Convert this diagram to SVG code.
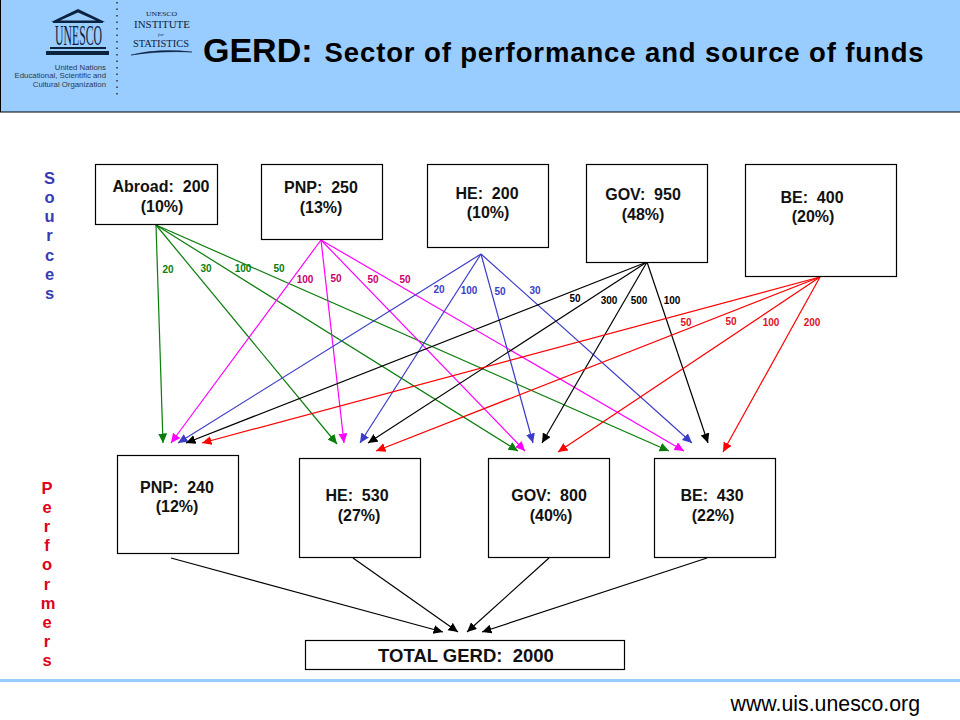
<svg xmlns="http://www.w3.org/2000/svg" width="960" height="720" viewBox="0 0 960 720">
<style>
text{font-family:"Liberation Sans",Arial,sans-serif;white-space:pre}
.serif{font-family:"Liberation Serif",serif}
.box{fill:#fff;stroke:#000;stroke-width:1.2}
.n{font-size:16px;font-weight:bold;text-anchor:middle;fill:#111}
.l{font-size:10px;font-weight:bold;text-anchor:middle}
.c line{stroke-width:1.2;fill:none}
.v{font-size:16.5px;font-weight:bold;text-anchor:middle}
.g line{stroke:#0a7d0a}.m line{stroke:#f0f}.b line{stroke:#3c3cc8}.k line{stroke:#000}.r line{stroke:#f00}
</style>
<defs>
<marker id="ag" markerWidth="10" markerHeight="10" refX="9.5" refY="4.5" orient="auto" markerUnits="userSpaceOnUse"><path d="M0 0L9.500 4.500L0 9z" fill="#0a7d0a"/></marker>
<marker id="am" markerWidth="10" markerHeight="10" refX="9.5" refY="4.5" orient="auto" markerUnits="userSpaceOnUse"><path d="M0 0L9.500 4.500L0 9z" fill="#f0f"/></marker>
<marker id="ab" markerWidth="10" markerHeight="10" refX="9.5" refY="4.5" orient="auto" markerUnits="userSpaceOnUse"><path d="M0 0L9.500 4.500L0 9z" fill="#3c3cc8"/></marker>
<marker id="ak" markerWidth="10" markerHeight="10" refX="9.5" refY="4.5" orient="auto" markerUnits="userSpaceOnUse"><path d="M0 0L9.500 4.500L0 9z" fill="#000"/></marker>
<marker id="ar" markerWidth="10" markerHeight="10" refX="9.5" refY="4.5" orient="auto" markerUnits="userSpaceOnUse"><path d="M0 0L9.500 4.500L0 9z" fill="#f00"/></marker>
</defs>
<rect width="960" height="720" fill="#fff"/>
<rect id="header" x="0.5" y="-2" width="961" height="114" fill="#99ccff" stroke="#000" stroke-width="1"/>
<g id="logo">
<path d="M51 22L78 9L105 22zM60 20.500H96L78 12.500z" fill="#0c2340" fill-rule="evenodd"/>
<rect x="53" y="21" width="50" height="2" fill="#0c2340"/>
<text class="serif" transform="translate(55 45) scale(1 2.550)" font-size="11.750" fill="#0c2340">UNESCO</text>
<rect x="50" y="47" width="56" height="2" fill="#0c2340"/>
<rect x="46" y="51" width="63" height="4" fill="#0c2340"/>
<g font-size="7.800" fill="#2c3a4c" text-anchor="end">
<text x="106" y="70">United Nations</text>
<text x="106" y="78">Educational, Scientific and</text>
<text x="106" y="87">Cultural Organization</text>
</g>
<line x1="117" y1="2" x2="117" y2="99" stroke="#333" stroke-width="1.5" stroke-dasharray="1.5 5"/>
<g fill="#0c2340">
<text class="serif" x="146" y="16" font-size="7" textLength="31" lengthAdjust="spacingAndGlyphs">UNESCO</text>
<text class="serif" x="134" y="28" font-size="11" textLength="56" lengthAdjust="spacingAndGlyphs">INSTITUTE</text>
<text class="serif" x="161" y="35.500" font-size="5" font-style="italic" text-anchor="middle">for</text>
<text class="serif" x="133" y="47" font-size="11" textLength="56" lengthAdjust="spacingAndGlyphs">STATISTICS</text>
</g>
<path d="M131 55Q160 48 192 52Q160 50.500 131 55z" fill="#0c2340" stroke="#0c2340" stroke-width=".5"/>
</g>
<text id="title" x="203" y="62" font-weight="bold" fill="#000"><tspan font-size="34">GERD:</tspan><tspan font-size="27.500" dx="12" letter-spacing=".88">Sector of performance and source of funds</tspan></text>

<g id="connectors" class="c">
<g class="g">
<line x1="156" y1="225" x2="163" y2="443" marker-end="url(#ag)"/>
<line x1="156" y1="225" x2="337" y2="444" marker-end="url(#ag)"/>
<line x1="156" y1="225" x2="518" y2="451" marker-end="url(#ag)"/>
<line x1="156" y1="225" x2="669" y2="451" marker-end="url(#ag)"/>
</g>
<g class="m">
<line x1="321" y1="240" x2="171" y2="443" marker-end="url(#am)"/>
<line x1="321" y1="240" x2="344" y2="443" marker-end="url(#am)"/>
<line x1="321" y1="240" x2="525" y2="451" marker-end="url(#am)"/>
<line x1="321" y1="240" x2="684" y2="451" marker-end="url(#am)"/>
</g>
<g class="b">
<line x1="481" y1="254" x2="178" y2="443" marker-end="url(#ab)"/>
<line x1="481" y1="254" x2="360" y2="443" marker-end="url(#ab)"/>
<line x1="481" y1="254" x2="533" y2="443" marker-end="url(#ab)"/>
<line x1="481" y1="254" x2="692" y2="443" marker-end="url(#ab)"/>
</g>
<g class="k">
<line x1="647" y1="262" x2="186" y2="443" marker-end="url(#ak)"/>
<line x1="647" y1="262" x2="368" y2="443" marker-end="url(#ak)"/>
<line x1="647" y1="262" x2="542" y2="443" marker-end="url(#ak)"/>
<line x1="647" y1="262" x2="708" y2="443" marker-end="url(#ak)"/>
</g>
<g class="r">
<line x1="820" y1="277" x2="202" y2="443" marker-end="url(#ar)"/>
<line x1="820" y1="277" x2="376" y2="451" marker-end="url(#ar)"/>
<line x1="820" y1="277" x2="558" y2="452" marker-end="url(#ar)"/>
<line x1="820" y1="277" x2="723" y2="452" marker-end="url(#ar)"/>
</g>
<g class="k">
<line x1="171" y1="558" x2="443" y2="632" marker-end="url(#ak)"/>
<line x1="353" y1="558" x2="458" y2="632" marker-end="url(#ak)"/>
<line x1="549" y1="558" x2="467" y2="632" marker-end="url(#ak)"/>
<line x1="707" y1="558" x2="482" y2="632" marker-end="url(#ak)"/>
</g>
</g>

<g id="src-abroad"><rect class="box" x="95.500" y="164.500" width="122" height="60"/><text class="n" x="161" y="192">Abroad:  200</text><text class="n" x="162" y="212">(10%)</text></g>
<g id="src-pnp"><rect class="box" x="261.500" y="164.500" width="121" height="75"/><text class="n" x="321" y="193">PNP:  250</text><text class="n" x="321" y="213">(13%)</text></g>
<g id="src-he"><rect class="box" x="427.500" y="164.500" width="121" height="83"/><text class="n" x="487" y="199">HE:  200</text><text class="n" x="488" y="218">(10%)</text></g>
<g id="src-gov"><rect class="box" x="586.500" y="164.500" width="121" height="98"/><text class="n" x="643" y="200">GOV:  950</text><text class="n" x="643" y="220">(48%)</text></g>
<g id="src-be"><rect class="box" x="745.500" y="164.500" width="151" height="112"/><text class="n" x="812" y="203">BE:  400</text><text class="n" x="813" y="222">(20%)</text></g>

<g id="perf-pnp"><rect class="box" x="117.500" y="455.500" width="121" height="98"/><text class="n" x="177" y="493">PNP:  240</text><text class="n" x="177" y="512">(12%)</text></g>
<g id="perf-he"><rect class="box" x="299.500" y="458.500" width="121" height="99"/><text class="n" x="357" y="501">HE:  530</text><text class="n" x="359" y="521">(27%)</text></g>
<g id="perf-gov"><rect class="box" x="488.500" y="458.500" width="121" height="99"/><text class="n" x="549" y="501">GOV:  800</text><text class="n" x="551" y="521">(40%)</text></g>
<g id="perf-be"><rect class="box" x="654.500" y="458.500" width="121" height="99"/><text class="n" x="712" y="501">BE:  430</text><text class="n" x="713" y="521">(22%)</text></g>
<g id="total"><rect class="box" x="305.500" y="640.500" width="319" height="29"/><text x="466" y="662" font-size="18.500" font-weight="bold" text-anchor="middle" fill="#111">TOTAL GERD:  2000</text></g>

<g id="labels-green" class="l" fill="#0a7d0a">
<text x="168" y="273">20</text><text x="206" y="272">30</text><text x="243" y="272">100</text><text x="279" y="272">50</text>
</g>
<g id="labels-magenta" class="l" fill="#c8006e">
<text x="305" y="283">100</text><text x="336" y="282">50</text><text x="373" y="283">50</text><text x="405" y="283">50</text>
</g>
<g id="labels-blue" class="l" fill="#3c3cc8">
<text x="439" y="293">20</text><text x="469" y="294">100</text><text x="500" y="295">50</text><text x="535" y="294">30</text>
</g>
<g id="labels-black" class="l" fill="#000">
<text x="575" y="302">50</text><text x="609" y="304">300</text><text x="639" y="304">500</text><text x="672" y="304">100</text>
</g>
<g id="labels-red" class="l" fill="#e0101c">
<text x="686" y="326">50</text><text x="731" y="325">50</text><text x="771" y="326">100</text><text x="812" y="326">200</text>
</g>

<g id="sources-label" class="v" fill="#3a3ab4">
<text x="49.500" y="184">S</text><text x="49.500" y="203">o</text><text x="49.500" y="222">u</text><text x="49.500" y="241">r</text><text x="49.500" y="261">c</text><text x="49.500" y="280">e</text><text x="49.500" y="299">s</text>
</g>
<g id="performers-label" class="v" fill="#e00020">
<text x="47" y="494">P</text><text x="47" y="513">e</text><text x="47" y="532">r</text><text x="47" y="551">f</text><text x="47" y="570">o</text><text x="47" y="590">r</text><text x="48" y="609">m</text><text x="47" y="628">e</text><text x="47" y="647">r</text><text x="47" y="666">s</text>
</g>

<rect id="footer-rule" x="0" y="679" width="960" height="3" fill="#99ccff"/>
<text id="url" x="920" y="711" font-size="21.300" text-anchor="end" fill="#000">www.uis.unesco.org</text>
</svg>
